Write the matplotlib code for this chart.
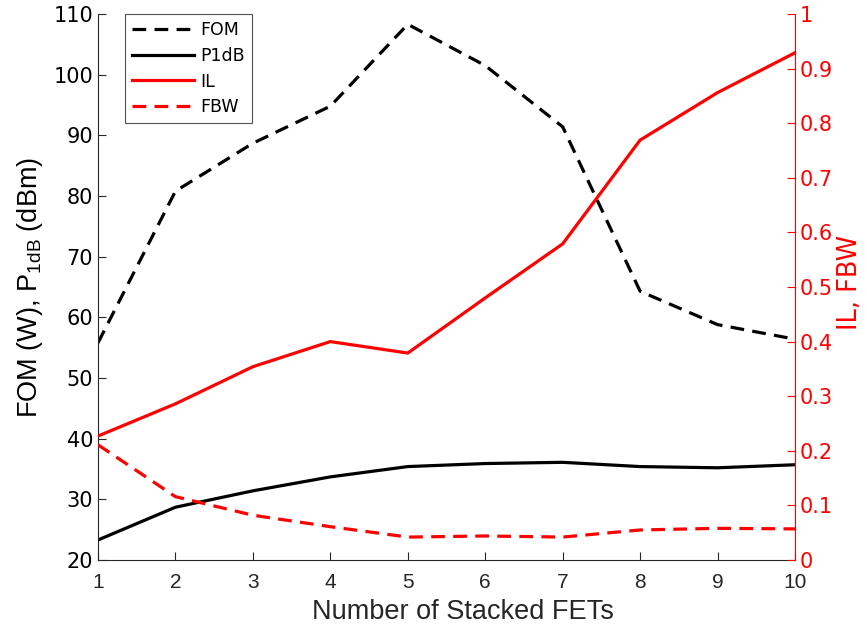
import matplotlib
matplotlib.use("Agg")
import matplotlib.pyplot as plt

n_fets = [1, 2, 3, 4, 5, 6, 7, 8, 9, 10]
fom = [55.8, 80.8, 88.7, 94.8, 108.3, 101.5, 91.4, 64.3, 58.8, 56.4]
p1db = [23.3, 28.7, 31.4, 33.7, 35.4, 35.9, 36.1, 35.4, 35.2, 35.7]
il = [0.227, 0.286, 0.354, 0.400, 0.379, 0.480, 0.579, 0.769, 0.856, 0.929]
fbw = [0.211, 0.116, 0.082, 0.061, 0.042, 0.044, 0.042, 0.055, 0.058, 0.057]

plt.rcParams['font.family'] = ['DejaVu Sans']
fig = plt.figure(figsize=(8.67, 6.3), dpi=100)
ax = fig.add_axes([98/867, 1-560/630, (795-98)/867, (560-14)/630])
ax2 = ax.twinx()

lw = 2.3
dash = (0, (4.3, 2.6))
l1, = ax.plot(n_fets, fom, color='black', lw=lw, linestyle=dash, label='FOM')
l2, = ax.plot(n_fets, p1db, color='black', lw=lw, label='P1dB')
l3, = ax2.plot(n_fets, il, color='red', lw=lw, label='IL')
l4, = ax2.plot(n_fets, fbw, color='red', lw=lw, linestyle=dash, label='FBW')

ax.set_xlim(1, 10)
ax.set_ylim(20, 110)
ax2.set_ylim(0, 1)
ax.set_xticks(n_fets)
ax.set_xticklabels([str(v) for v in n_fets], fontfamily='Liberation Sans', fontsize=15)
ax.set_yticks(range(20, 111, 10))
ax2.set_yticks([0, 0.1, 0.2, 0.3, 0.4, 0.5, 0.6, 0.7, 0.8, 0.9, 1])
ax2.set_yticklabels(['0', '0.1', '0.2', '0.3', '0.4', '0.5', '0.6', '0.7', '0.8', '0.9', '1'])

for a in (ax, ax2):
    a.spines['top'].set_visible(False)
ax.spines['right'].set_visible(False)
ax2.spines['left'].set_visible(False)
ax2.spines['bottom'].set_visible(False)
ax2.spines['right'].set_color('red')
ax.spines['left'].set_color('#262626')
ax.spines['bottom'].set_color('#262626')

ax.tick_params(axis='both', direction='in', length=6, colors='#262626')
ax.tick_params(axis='y', labelcolor='black', labelsize=15)
ax.tick_params(axis='x', pad=9.5, labelcolor='#262626')
ax2.tick_params(axis='y', direction='in', length=6, labelsize=15, colors='red')

ax.set_xlabel('Number of Stacked FETs', fontsize=19.5, color='#262626',
              fontfamily='Liberation Sans', labelpad=5)
ax.xaxis.label.set_x(0.5 + 16/697)
ax.set_ylabel('FOM (W), P$_{\\mathregular{1dB}}$ (dBm)', fontsize=19.5, color='black',
              fontfamily='Liberation Sans', labelpad=6)
ax2.set_ylabel('IL, FBW', fontsize=18.5, color='red', labelpad=3)
ax2.yaxis.label.set_y(0.5 + 5/546)

leg = ax2.legend(handles=[l1, l2, l3, l4], loc='upper left', bbox_to_anchor=(125/867, 1-14/630),
                 bbox_transform=fig.transFigure, fontsize=12.5, handlelength=3.6,
                 frameon=True, fancybox=False, borderaxespad=0, labelspacing=0.45,
                 handletextpad=0.35, borderpad=0.4)
leg.get_frame().set_edgecolor('#262626')
leg.get_frame().set_linewidth(0.8)

fig.savefig('out.png', dpi=100)
